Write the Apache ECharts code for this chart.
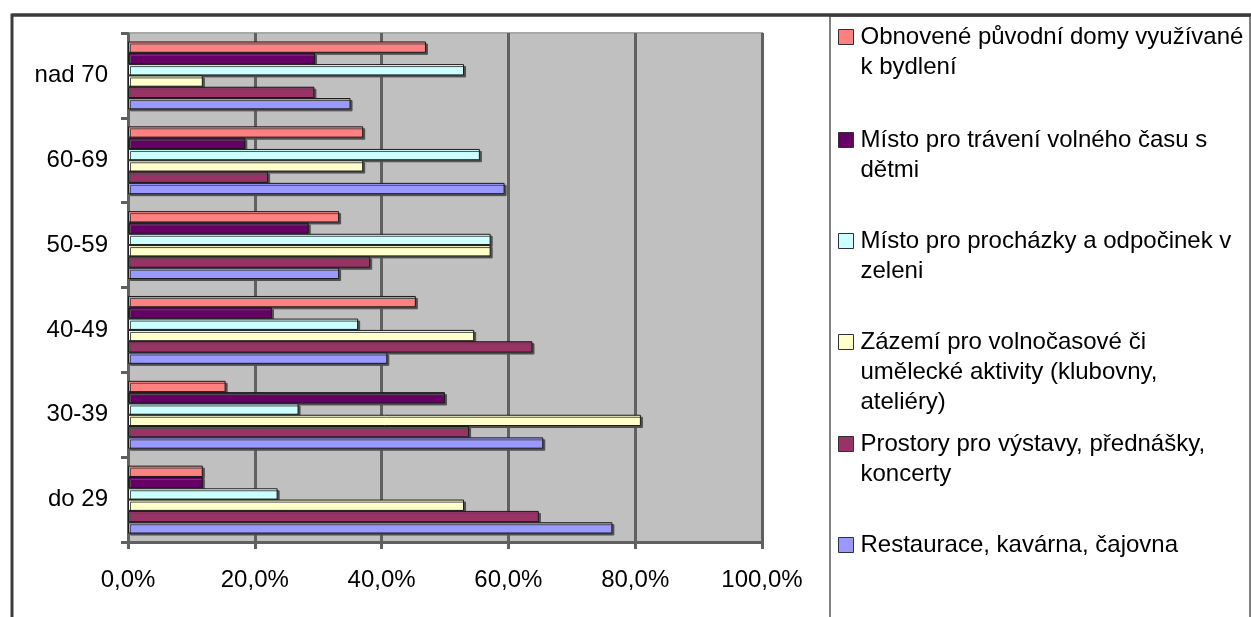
<!DOCTYPE html>
<html>
<head>
<meta charset="utf-8">
<script src="https://cdn.jsdelivr.net/npm/echarts@6/dist/echarts.min.js"></script>
<style>
html,body{margin:0;padding:0;background:#fff;}
#c{width:1251px;height:617px;}
</style>
</head>
<body>
<div id="c"></div>
<script>
// categories bottom -> top
const categories = ['do 29', '30-39', '40-49', '50-59', '60-69', 'nad 70'];
const xTicks = [0, 20, 40, 60, 80, 100];

// series (legend order top -> bottom)
const nameObnovene = 'Obnovené původní domy využívané k bydlení';
const nameTraveni = 'Místo pro trávení volného času s dětmi';
const nameProchazky = 'Místo pro procházky a odpočinek v zeleni';
const nameZazemi = 'Zázemí pro volnočasové či umělecké aktivity (klubovny, ateliéry)';
const nameProstory = 'Prostory pro výstavy, přednášky, koncerty';
const nameRestaurace = 'Restaurace, kavárna, čajovna';

const valObnovene = [11.8, 15.4, 45.4, 33.3, 37.1, 47.0];
const valTraveni = [11.8, 50.0, 22.7, 28.5, 18.5, 29.5];
const valProchazky = [23.6, 26.9, 36.3, 57.2, 55.5, 53.0];
const valZazemi = [53.0, 80.9, 54.6, 57.2, 37.1, 11.8];
const valProstory = [64.8, 53.8, 63.8, 38.2, 22.1, 29.4];
const valRestaurace = [76.4, 65.5, 40.9, 33.3, 59.4, 35.1];

const legendNames = [nameObnovene, nameTraveni, nameProchazky, nameZazemi, nameProstory, nameRestaurace];
const legendLabels = [
  'Obnovené původní domy využívané\nk bydlení',
  'Místo pro trávení volného času s\ndětmi',
  'Místo pro procházky a odpočinek v\nzeleni',
  'Zázemí pro volnočasové či\numělecké aktivity (klubovny,\nateliéry)',
  'Prostory pro výstavy, přednášky,\nkoncerty',
  'Restaurace, kavárna, čajovna'
];

const FONT = '"Liberation Sans", Arial, sans-serif';
const colors = {};
colors[nameObnovene] = '#FF8080';
colors[nameTraveni] = '#660066';
colors[nameProchazky] = '#CCFFFF';
colors[nameZazemi] = '#FFFFCC';
colors[nameProstory] = '#993366';
colors[nameRestaurace] = '#9999FF';

// top-most bar first
const seriesOrder = [
  [nameObnovene, valObnovene],
  [nameTraveni, valTraveni],
  [nameProchazky, valProchazky],
  [nameZazemi, valZazemi],
  [nameProstory, valProstory],
  [nameRestaurace, valRestaurace]
];

const series = seriesOrder.map(([n, v]) => ({
  name: n,
  type: 'bar',
  data: v,
  barGap: '0%',
  barCategoryGap: '20%',
  animation: false,
  itemStyle: {
    color: colors[n],
    borderColor: '#1a1a1a',
    borderWidth: 1,
    shadowColor: '#505050',
    shadowOffsetX: 2,
    shadowOffsetY: 2,
    shadowBlur: 0
  },
  emphasis: {disabled: true}
}));

const firstLineCenters = [37, 140, 241, 342, 444, 545];
const legends = legendNames.map((n, i) => {
  const lines = legendLabels[i].split('\n').length;
  const label = '\n'.repeat(lines - 1) + legendLabels[i];
  return {
    data: [n],
    orient: 'vertical',
    left: 838,
    top: firstLineCenters[i] - (2 * lines - 1) * 15,
    padding: 0,
    itemWidth: 15,
    itemHeight: 15,
    icon: 'rect',
    selectedMode: false,
    itemStyle: {borderColor: '#303030', borderWidth: 1, shadowBlur: 0, shadowOffsetX: 0, shadowOffsetY: 0},
    formatter: () => label,
    textStyle: {
      fontFamily: FONT,
      fontSize: 24,
      lineHeight: 30,
      color: '#000',
      padding: [0, 0, 0, 2]
    }
  };
});

const chart = echarts.init(document.getElementById('c'), null, {renderer: 'canvas'});
chart.setOption({
  backgroundColor: '#fff',
  animation: false,
  grid: {
    left: 128, top: 33, width: 634, height: 509,
    show: true, backgroundColor: '#C0C0C0', borderColor: '#a8a8a8', borderWidth: 2,
    containLabel: false
  },
  xAxis: {
    type: 'value', min: xTicks[0], max: xTicks[xTicks.length - 1], interval: xTicks[1] - xTicks[0],
    axisLine: {show: true, lineStyle: {color: '#606060', width: 3}},
    axisTick: {show: true, length: 7, lineStyle: {color: '#606060', width: 3}},
    splitLine: {show: true, lineStyle: {color: '#606060', width: 3}},
    axisLabel: {
      margin: 26, color: '#000', fontFamily: FONT, fontSize: 24,
      formatter: v => v.toFixed(1).replace('.', ',') + '%'
    }
  },
  yAxis: {
    type: 'category', data: categories,
    axisLine: {show: true, lineStyle: {color: '#606060', width: 2}},
    axisTick: {show: true, length: 7, lineStyle: {color: '#606060', width: 3}},
    axisLabel: {margin: 20, color: '#000', fontFamily: FONT, fontSize: 24},
    splitLine: {show: false}
  },
  legend: legends,
  series: series,
  graphic: [
    {type: 'rect', shape: {x: 12, y: 15, width: 1400, height: 800}, style: {fill: null, stroke: '#3c3c3c', lineWidth: 3}, silent: true, z: 100},
    {type: 'rect', shape: {x: 830, y: 16, width: 420, height: 800}, style: {fill: null, stroke: '#808080', lineWidth: 2}, silent: true, z: 99},
    {type: 'line', shape: {x1: 12, y1: 15, x2: 1251, y2: 15}, style: {stroke: '#3c3c3c', lineWidth: 3}, silent: true, z: 101}
  ]
});
</script>
</body>
</html>
